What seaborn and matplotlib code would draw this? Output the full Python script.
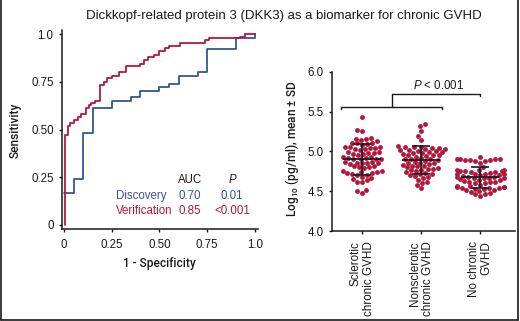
import matplotlib
matplotlib.use('Agg')
import matplotlib.pyplot as plt
import seaborn as sns
import pandas as pd
import numpy as np
from matplotlib.lines import Line2D

# ROC corner points (1 - specificity, sensitivity)
disc_fpr = [0.0, 0.05, 0.10, 0.15, 0.25, 0.35, 0.40, 0.50, 0.55, 0.60, 0.70, 0.75, 0.90, 1.0, 1.0]
disc_tpr = [0.17, 0.24, 0.48, 0.61, 0.65, 0.67, 0.70, 0.72, 0.74, 0.78, 0.80, 0.92, 0.98, 0.98, 1.0]
verif_fpr = [0.005, 0.005, 0.02, 0.03, 0.05, 0.075, 0.09, 0.115, 0.13, 0.14, 0.16, 0.19, 0.21, 0.225,
             0.25, 0.29, 0.325, 0.40, 0.42, 0.44, 0.47, 0.50, 0.53, 0.55, 0.61, 0.74, 0.76, 0.92,
             0.95, 1.0]
verif_tpr = [0.0, 0.47, 0.52, 0.535, 0.55, 0.565, 0.58, 0.615, 0.63, 0.64, 0.65, 0.735, 0.75, 0.77,
             0.78, 0.80, 0.83, 0.845, 0.865, 0.88, 0.89, 0.91, 0.925, 0.935, 0.955, 0.97, 0.977, 0.985,
             1.0, 1.0]

# DKK3 levels, log10 pg/ml
groups = ['Sclerotic\nchronic GVHD', 'Nonsclerotic\nchronic GVHD', 'No chronic\nGVHD']
sclerotic = [5.43, 5.27, 5.25, 5.17, 5.16, 5.15, 5.14, 5.13, 5.11, 5.10, 5.10, 5.09, 5.08, 5.06,
             5.05, 5.05, 5.04, 5.04, 5.03, 5.03, 5.02, 4.99, 4.99, 4.98, 4.98, 4.97, 4.97, 4.96,
             4.93, 4.93, 4.92, 4.92, 4.91, 4.91, 4.90, 4.90, 4.87, 4.87, 4.86, 4.86, 4.85, 4.85,
             4.84, 4.81, 4.81, 4.80, 4.80, 4.79, 4.75, 4.75, 4.74, 4.74, 4.73, 4.73, 4.72, 4.70,
             4.70, 4.68, 4.66, 4.65, 4.64, 4.62, 4.61, 4.52, 4.50, 4.48]
nonsclerotic = [5.34, 5.32, 5.26, 5.19, 5.14, 5.07, 5.06, 5.05, 5.05, 5.04, 5.04, 5.03, 5.03, 5.02,
                5.02, 5.01, 5.00, 4.99, 4.99, 4.98, 4.98, 4.97, 4.96, 4.95, 4.95, 4.94, 4.93, 4.92,
                4.91, 4.91, 4.90, 4.89, 4.88, 4.87, 4.86, 4.86, 4.85, 4.84, 4.83, 4.82, 4.82, 4.81,
                4.80, 4.79, 4.78, 4.78, 4.77, 4.76, 4.75, 4.74, 4.73, 4.72, 4.71, 4.70, 4.69, 4.68,
                4.66, 4.64, 4.62, 4.60, 4.58, 4.54]
no_cgvhd = [4.93, 4.91, 4.90, 4.90, 4.90, 4.89, 4.89, 4.89, 4.88, 4.88, 4.86, 4.80, 4.77, 4.76,
            4.76, 4.75, 4.75, 4.75, 4.74, 4.74, 4.73, 4.72, 4.72, 4.71, 4.71, 4.70, 4.70, 4.69,
            4.68, 4.68, 4.68, 4.67, 4.67, 4.66, 4.66, 4.65, 4.64, 4.64, 4.63, 4.62, 4.62, 4.61,
            4.60, 4.60, 4.58, 4.56, 4.56, 4.55, 4.55, 4.55, 4.54, 4.54, 4.54, 4.53, 4.53, 4.52,
            4.51, 4.50, 4.49, 4.48, 4.47, 4.46, 4.44]

blue = '#34568f'
red = '#b5173c'
ink = '#1a1a1a'

sns.set_style('ticks')
plt.rcParams['font.family'] = ['Liberation Sans', 'DejaVu Sans']
plt.rcParams['font.size'] = 8.3
plt.rcParams['mathtext.fontset'] = 'custom'
plt.rcParams['mathtext.rm'] = 'Roboto:medium'
plt.rcParams['mathtext.it'] = 'Liberation Sans:italic'
plt.rcParams['axes.linewidth'] = 1.1
plt.rcParams['axes.edgecolor'] = ink
plt.rcParams['xtick.color'] = ink
plt.rcParams['ytick.color'] = ink
plt.rcParams['xtick.major.width'] = 1.0
plt.rcParams['ytick.major.width'] = 1.0
plt.rcParams['xtick.major.size'] = 2.5
plt.rcParams['ytick.major.size'] = 2.5

narrow = ['Roboto', 'DejaVu Sans']

fig = plt.figure(figsize=(5.2, 3.21), dpi=100)

# ---- ROC panel
ax1 = fig.add_axes([62/520, 1-229/321, 196/520, 199/321])
roc = pd.concat([
    pd.DataFrame({'fpr': disc_fpr, 'tpr': disc_tpr, 'cohort': 'Discovery'}),
    pd.DataFrame({'fpr': verif_fpr, 'tpr': verif_tpr, 'cohort': 'Verification'}),
])
sns.lineplot(data=roc, x='fpr', y='tpr', hue='cohort', palette={'Discovery': blue, 'Verification': red},
             estimator=None, sort=False, drawstyle='steps-post', linewidth=1.3, legend=False, ax=ax1)
ax1.set_xlim(-0.0105, 1.016)
ax1.set_ylim(-0.021, 1.021)
ax1.set_xticks([0, 0.25, 0.5, 0.75, 1.0])
ax1.set_xticklabels(['0', '0.25', '0.50', '0.75', '1.0'])
ax1.set_yticks([0, 0.25, 0.5, 0.75, 1.0])
ax1.set_yticklabels(['0', '0.25', '0.50', '0.75', '1.0'])
ax1.tick_params(axis='x', pad=5)
ax1.set_xlabel('')
ax1.set_ylabel('')
sns.despine(ax=ax1)

ax1.text(0.66, 0.236, 'AUC', ha='center', va='center', color=ink)
ax1.text(0.885, 0.236, '$\\it{P}$', ha='center', va='center', color=ink)
ax1.text(0.27, 0.152, 'Discovery', ha='left', va='center', color=blue)
ax1.text(0.66, 0.152, '0.70', ha='center', va='center', color=blue)
ax1.text(0.88, 0.152, '0.01', ha='center', va='center', color=blue)
ax1.text(0.27, 0.072, 'Verification', ha='left', va='center', color=red)
ax1.text(0.66, 0.072, '0.85', ha='center', va='center', color=red)
ax1.text(0.88, 0.072, '<0.001', ha='center', va='center', color=red)

fig.text(15/520, 1-130/321, 'Sensitivity', rotation=90, ha='center', va='center',
         family=narrow, fontsize=8.6, fontweight='medium', color=ink)
fig.text(159/520, 1-263/321, '1 - Specificity', ha='center', va='center',
         family=narrow, fontsize=8.6, fontweight='medium', color=ink)

# ---- DKK3 levels panel
ax2 = fig.add_axes([332/520, 1-231/321, 183/520, 159.3/321])
df = pd.DataFrame({
    'group': [groups[0]]*len(sclerotic) + [groups[1]]*len(nonsclerotic) + [groups[2]]*len(no_cgvhd),
    'value': sclerotic + nonsclerotic + no_cgvhd,
})
sns.swarmplot(data=df, x='group', y='value', order=groups, color=red, size=3.5, linewidth=0, ax=ax2)

# mean +- SD
stats = df.groupby('group', sort=False)['value'].agg(['mean', 'std']).reindex(groups)
for i, g in enumerate(groups):
    m, s = stats.loc[g, 'mean'], stats.loc[g, 'std']
    ax2.hlines(m, i-0.32, i+0.32, color=ink, linewidth=1.3, zorder=5)
    ax2.vlines(i, m-s, m+s, color=ink, linewidth=1.2, zorder=5)
    ax2.hlines([m-s, m+s], i-0.15, i+0.15, color=ink, linewidth=1.2, zorder=5)

ax2.set_xlim(-0.51, 2.59)
ax2.set_ylim(4.0, 6.0)
ax2.set_yticks([4.0, 4.5, 5.0, 5.5, 6.0])
ax2.set_yticklabels(['4.0', '4.5', '5.0', '5.5', '6.0'])
ax2.set_xticks(range(3))
ax2.set_xticklabels(groups, rotation=90, ha='center', va='top', multialignment='right',
                    fontsize=8.4, linespacing=1.1)
ax2.tick_params(axis='x', pad=5)
ax2.set_xlabel('')
ax2.set_ylabel('')
sns.despine(ax=ax2)

# significance bracket
bk = dict(color=ink, linewidth=1.0, clip_on=False)
ax2.plot([-0.35, -0.35, 1.35, 1.35], [5.53, 5.56, 5.56, 5.53], **bk)
ax2.plot([0.5, 0.5], [5.56, 5.72], **bk)
ax2.plot([0.5, 2.0, 2.0], [5.72, 5.72, 5.69], **bk)
ax2.text(1.3, 5.83, '$\\it{P}$ < 0.001', ha='center', va='center', color=ink)

fig.text(292/520, 1-149/321, 'Log$_{10}$ (pg/ml), mean ± SD', rotation=90, ha='center', va='center',
         family=narrow, fontsize=8.6, fontweight='medium', color=ink)

fig.text(283.5/520, 1-16/321, 'Dickkopf-related protein 3 (DKK3) as a biomarker for chronic GVHD',
         ha='center', va='center', fontsize=9.5, color=ink)

# outer frame
for xs, ys in [([0.002, 0.002], [0.003, 1.0]), ([0.002, 0.996], [0.003, 0.003]), ([0.996, 0.996], [0.003, 1.0])]:
    fig.add_artist(Line2D(xs, ys, transform=fig.transFigure, color=ink, linewidth=1.2))

fig.savefig('out.png', dpi=100)
plt.close()
